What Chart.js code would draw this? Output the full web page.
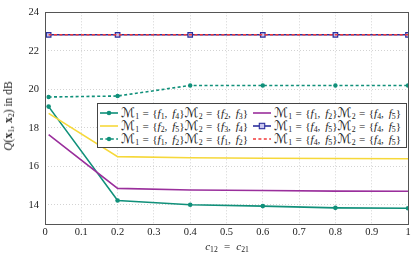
<!DOCTYPE html>
<html>
<head>
<meta charset="utf-8">
<script src="https://cdn.jsdelivr.net/npm/chart.js@4/dist/chart.umd.min.js"></script>
<style>
  html, body { margin: 0; padding: 0; background: #fff; }
  #wrap { position: relative; width: 415px; height: 254px; }
  canvas { position: absolute; left: 0; top: 0; }
  .serif { font-family: "Liberation Serif", "DejaVu Serif", serif; color: #222; }
  #legend { position: absolute; left: 97px; top: 103px; width: 310px; height: 45px;
            border: 1px solid #444; background: #fff; box-sizing: border-box; font-size: 11.2px; }
  .item { position: absolute; height: 12px; line-height: 12px; white-space: nowrap; }
  .item svg { position: absolute; left: 0; top: 0; }
  .item span.t { position: absolute; left: 21px; top: 0; }
  sub { font-size: 70%; vertical-align: -2px; line-height: 0; }
  .eq { padding: 0 3.4px; }
  .cm { padding-right: 2px; }
  .M { font-family: "DejaVu Sans", sans-serif; font-size: 118%; font-style: normal; }
  #ytitle { position: absolute; left: 8px; top: 116px; transform: translate(-50%,-50%) rotate(-90deg);
            white-space: nowrap; font-size: 11.5px; }
  #xtitle { position: absolute; left: 227px; top: 246px; transform: translate(-50%,-50%);
            white-space: nowrap; font-size: 11px; }
</style>
</head>
<body>
<div id="wrap">
  <canvas id="c" width="415" height="254"></canvas>
  <div id="ytitle" class="serif"><i>Q</i>(<b>x</b><sub>1</sub>, <b>x</b><sub>2</sub>) in dB</div>
  <div id="xtitle" class="serif"><i>c</i><sub>12</sub> <span class="eq">=</span> <i>c</i><sub>21</sub></div>
  <div id="legend" class="serif"></div>
</div>
<script>
// ---- data ----
const X_VALUES = [0.01, 0.2, 0.4, 0.6, 0.8, 1.0];
const Y_F14_F23 = [19.1, 14.22, 14.0, 13.93, 13.84, 13.82];
const Y_F12_F45 = [17.65, 14.85, 14.77, 14.74, 14.71, 14.70];
const Y_F25_F34 = [18.75, 16.5, 16.44, 16.42, 16.40, 16.39];
const Y_F45_F45_A = [22.83, 22.83, 22.83, 22.83, 22.83, 22.83];
const Y_F12_F12 = [19.6, 19.65, 20.2, 20.2, 20.2, 20.2];
const Y_F45_F45_B = [22.83, 22.83, 22.83, 22.83, 22.83, 22.83];
const X_TICKS = [0, 0.1, 0.2, 0.3, 0.4, 0.5, 0.6, 0.7, 0.8, 0.9, 1];
const Y_TICKS = [14, 16, 18, 20, 22, 24];
const SETS = [['1','4','2','3'], ['1','2','4','5'], ['2','5','3','4'], ['4','5','4','5'], ['1','2','1','2'], ['4','5','4','5']];

const label = s => `<span class="M">ℳ</span><sub>1</sub><span class="eq">=</span>{<i>f</i><sub>${s[0]}</sub><span class="cm">,</span> <i>f</i><sub>${s[1]}</sub>}<span class="M">ℳ</span><sub>2</sub><span class="eq">=</span>{<i>f</i><sub>${s[2]}</sub><span class="cm">,</span> <i>f</i><sub>${s[3]}</sub>}`;

const GREEN = '#10907a', PURPLE = '#9a2f9c', YELLOW = '#f6d83a', BLUE = '#2b2f9c', RED = '#f23a3a';
const pts = ys => X_VALUES.map((x, i) => ({ x: x, y: ys[i] }));

const STYLES = [
  { c: GREEN, w: 1.6, dash: [], pt: 'circle', r: 2.3, fill: GREEN },
  { c: PURPLE, w: 1.6, dash: [], pt: false },
  { c: YELLOW, w: 1.6, dash: [], pt: false },
  { c: BLUE, w: 1.6, dash: [], pt: 'rect', r: 3.2, fill: '#c9c6f0' },
  { c: GREEN, w: 1.6, dash: [3, 2.4], pt: 'circle', r: 2.2, fill: GREEN },
  { c: RED, w: 1.6, dash: [3, 2.4], pt: false }
];
const SERIES = [Y_F14_F23, Y_F12_F45, Y_F25_F34, Y_F45_F45_A, Y_F12_F12, Y_F45_F45_B];

const datasets = SERIES.map((ys, i) => {
  const s = STYLES[i];
  return {
    label: 'series' + i,
    data: pts(ys),
    borderColor: s.c,
    backgroundColor: s.fill || s.c,
    borderWidth: s.w,
    borderDash: s.dash,
    pointStyle: s.pt || 'circle',
    pointRadius: s.pt ? s.r : 0,
    pointBorderColor: s.c,
    pointBackgroundColor: s.fill || s.c,
    pointBorderWidth: s.pt === 'rect' ? 1.2 : 0,
    tension: 0,
    order: 6 - i
  };
});

const boxPlugin = {
  id: 'box',
  afterDatasetsDraw(chart) {
    const { ctx, chartArea: a } = chart;
    ctx.save();
    ctx.strokeStyle = '#555';
    ctx.lineWidth = 1;
    ctx.strokeRect(Math.round(a.left) + 0.5, Math.round(a.top) + 0.5,
                   Math.round(a.right - a.left), Math.round(a.bottom - a.top));
    ctx.restore();
  }
};

new Chart(document.getElementById('c'), {
  type: 'line',
  data: { datasets: datasets },
  options: {
    responsive: false,
    animation: false,
    devicePixelRatio: 1,
    layout: { padding: { left: 0, right: 7, top: 7, bottom: 0 } },
    plugins: { legend: { display: false }, tooltip: { enabled: false } },
    scales: {
      x: {
        type: 'linear', min: 0, max: 1,
        afterBuildTicks: s => { s.ticks = X_TICKS.map(v => ({ value: v })); },
        afterFit: s => { s.height = 30; },
        ticks: {
          callback: v => (v === 0 || v === 1) ? String(v) : v.toFixed(1),
          font: { family: 'Liberation Serif', size: 10.5 }, color: '#222',
          padding: 2, maxRotation: 0
        },
        grid: { color: '#c8c8c8', lineWidth: 0.8, drawTicks: false },
        border: { display: false, dash: [1, 2] }
      },
      y: {
        type: 'linear', min: 13, max: 24,
        afterBuildTicks: s => { s.ticks = Y_TICKS.map(v => ({ value: v })); },
        afterFit: s => { s.width = 45; },
        ticks: {
          font: { family: 'Liberation Serif', size: 10.5 }, color: '#222', padding: 6
        },
        grid: { color: '#c8c8c8', lineWidth: 0.8, drawTicks: false },
        border: { display: false, dash: [1, 2] }
      }
    }
  },
  plugins: [boxPlugin]
});

// ---- legend (HTML) ----
const legend = document.getElementById('legend');
const COLS = [2, 155];
const ROWS = [3, 16, 29];
SETS.forEach((set, k) => {
  const s = STYLES[k];
  const col = k % 2, row = Math.floor(k / 2);
  const d = document.createElement('div');
  d.className = 'item';
  d.style.left = COLS[col] + 'px';
  d.style.top = ROWS[row] + 'px';
  let mk = '';
  if (s.pt === 'circle') mk = `<circle cx="9" cy="6" r="${s.r}" fill="${s.c}"/>`;
  if (s.pt === 'rect') mk = `<rect x="6.3" y="3.3" width="5.4" height="5.4" fill="${s.fill}" stroke="${s.c}" stroke-width="1.1"/>`;
  const dash = s.dash.length ? `stroke-dasharray="${s.dash.join(' ')}"` : '';
  d.innerHTML = `<svg width="19" height="12"><line x1="0" y1="6" x2="18" y2="6" stroke="${s.c}" stroke-width="${s.w}" ${dash}/>${mk}</svg><span class="t">${label(set)}</span>`;
  legend.appendChild(d);
});
</script>
</body>
</html>
